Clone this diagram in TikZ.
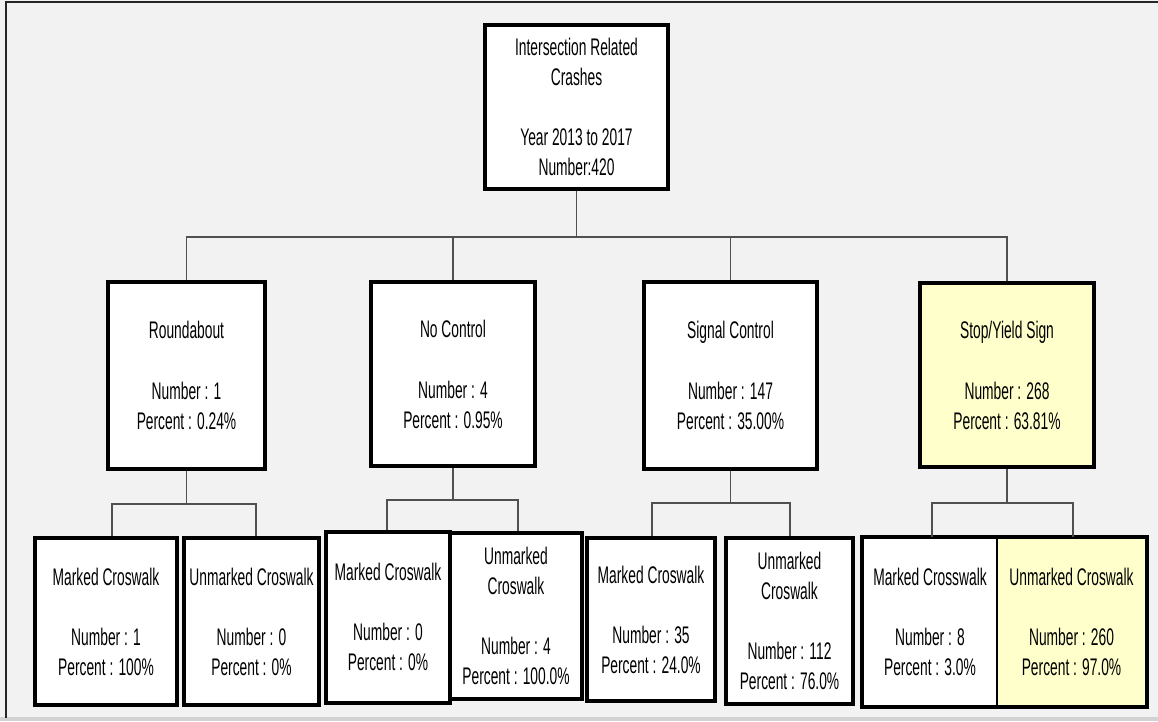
\documentclass[tikz,border=0pt]{standalone}
\usepackage{fontspec}
\setmainfont{Liberation Sans}[FakeStretch=0.575]
\definecolor{bgc}{HTML}{F2F2F2}
\definecolor{hilite}{HTML}{FFFFCC}
\definecolor{connc}{HTML}{505050}
\begin{document}
\begin{tikzpicture}[x=1pt,y=-1pt,
  box/.style={draw=black, line width=4pt, fill=white, rectangle, inner sep=0pt,
    align=center, font=\fontsize{24}{30}\selectfont},
  hibox/.style={box, fill=hilite},
  conn/.style={draw=connc, line width=1.3pt}]
\useasboundingbox (0,0) rectangle (1158,721);
\fill[bgc] (0,0) rectangle (1158,721);
\fill[gray!35] (0,717) rectangle (1158,721);
\draw[line width=2pt, black!85] (6,718) -- (6,2) -- (1158,2);

% top
\node[box, minimum width=183pt, minimum height=164pt] (top) at (576.5,107)
  {Intersection Related\\Crashes\\[30pt]Year 2013 to 2017\\Number:420};

% level 2
\node[box, minimum width=157pt, minimum height=187pt] (R) at (186.5,375.5)
  {Roundabout\\[31pt]Number : 1\\Percent : 0.24\%};
\node[box, minimum width=164pt, minimum height=184pt] (N) at (453,374)
  {No Control\\[31pt]Number : 4\\Percent : 0.95\%};
\node[box, minimum width=173pt, minimum height=187pt] (S) at (730.5,375.5)
  {Signal Control\\[31pt]Number : 147\\Percent : 35.00\%};
\node[hibox, minimum width=174pt, minimum height=184pt] (Y) at (1007,375)
  {Stop/Yield Sign\\[31pt]Number : 268\\Percent : 63.81\%};

% level 3
\node[box, minimum width=142pt, minimum height=167pt] (RM) at (106,621.5)
  {Marked Croswalk\\[30pt]Number : 1\\Percent : 100\%};
\node[box, minimum width=135pt, minimum height=167pt] (RU) at (251.5,621.5)
  {Unmarked Croswalk\\[30pt]Number : 0\\Percent : 0\%};
\node[box, minimum width=124pt, minimum height=171pt] (NM) at (388,617)
  {Marked Croswalk\\[30pt]Number : 0\\Percent : 0\%};
\node[box, minimum width=132pt, minimum height=166pt] (NU) at (516,616)
  {Unmarked\\Croswalk\\[30pt]Number : 4\\Percent : 100.0\%};
\node[box, minimum width=128pt, minimum height=163pt] (SM) at (651,619.5)
  {Marked Croswalk\\[30pt]Number : 35\\Percent : 24.0\%};
\node[box, minimum width=127pt, minimum height=166pt] (SU) at (789.5,621)
  {Unmarked\\Croswalk\\[30pt]Number : 112\\Percent : 76.0\%};
\node[box, line width=2.5pt, minimum width=134pt, minimum height=168pt] (YM) at (930,622)
  {Marked Crosswalk\\[30pt]Number : 8\\Percent : 3.0\%};
\node[hibox, line width=2.5pt, minimum width=149pt, minimum height=168pt] (YU) at (1071.5,622)
  {Unmarked Croswalk\\[30pt]Number : 260\\Percent : 97.0\%};
\draw[line width=4pt] (YM.north west) rectangle (YU.south east);

% connectors level 1 -> 2
\coordinate (busT) at (576.5,237);
\draw[conn] (top.south) -- (busT);
\draw[conn] (busT) -| (R.north);
\draw[conn] (busT) -| (N.north);
\draw[conn] (busT) -| (S.north);
\draw[conn] (busT) -| (Y.north);

% connectors level 2 -> 3
\coordinate (rL) at (112,504);
\coordinate (rR) at (256,504);
\draw[conn] (R.south) -- (R.south |- rL);
\draw[conn] (rL |- RM.north) -- (rL) -- (rR) -- (rR |- RU.north);

\coordinate (nL) at (387,500);
\coordinate (nR) at (518,500);
\draw[conn] (N.south) -- (N.south |- nL);
\draw[conn] (nL |- NM.north) -- (nL) -- (nR) -- (nR |- NU.north);

\coordinate (sL) at (652,503);
\coordinate (sR) at (790,503);
\draw[conn] (S.south) -- (S.south |- sL);
\draw[conn] (sL |- SM.north) -- (sL) -- (sR) -- (sR |- SU.north);

\coordinate (yL) at (932,503);
\coordinate (yR) at (1073,503);
\draw[conn] (Y.south) -- (Y.south |- yL);
\draw[conn] (yL |- YM.north) -- (yL) -- (yR) -- (yR |- YU.north);
\end{tikzpicture}
\end{document}
